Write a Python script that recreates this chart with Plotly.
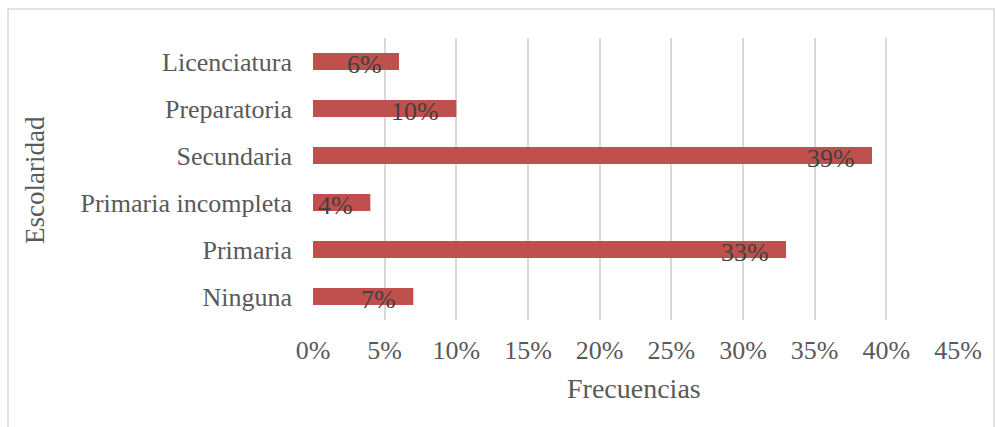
import plotly.graph_objects as go

categories = ["Ninguna", "Primaria", "Primaria incompleta", "Secundaria", "Preparatoria", "Licenciatura"]
values = [0.07, 0.33, 0.04, 0.39, 0.10, 0.06]
tick_vals = [0, 0.05, 0.10, 0.15, 0.20, 0.25, 0.30, 0.35, 0.40, 0.45]
tick_text = ["0%", "5%", "10%", "15%", "20%", "25%", "30%", "35%", "40%", "45%"]

FONT = "Liberation Serif"
W, H = 995, 427
L, R, T, B = 313, 37, 38, 107
pw, ph = W - L - R, H - T - B

fig = go.Figure()
fig.add_trace(go.Bar(
    y=categories, x=values, orientation="h",
    marker=dict(color="#C0504D", line=dict(width=0)),
    width=0.36, hoverinfo="skip",
))

for c, v in zip(categories, values):
    fig.add_annotation(
        x=v, y=c, xref="x", yref="y", text=f"{round(v*100)}%",
        showarrow=False, xanchor="right", yanchor="middle",
        xshift=-15, yshift=-3,
        font=dict(family=FONT, size=26, color="#404040"),
    )

def px_x(p):
    return (p - L) / pw

def px_y(p):
    return 1 - (p - T) / ph

fig.add_shape(type="rect", xref="paper", yref="paper",
              x0=px_x(8), x1=px_x(994), y0=px_y(430), y1=px_y(9),
              line=dict(color="#D9D9D9", width=1.5), fillcolor="rgba(0,0,0,0)", layer="below")

# axis titles
fig.add_annotation(x=px_x(35), y=px_y(180), xref="paper", yref="paper",
                   text="Escolaridad", textangle=-90, showarrow=False,
                   xanchor="center", yanchor="middle",
                   font=dict(family=FONT, size=27, color="#595959"))
fig.add_annotation(x=px_x(634), y=px_y(388), xref="paper", yref="paper",
                   text="Frecuencias", showarrow=False,
                   xanchor="center", yanchor="middle",
                   font=dict(family=FONT, size=28, color="#595959"))

fig.update_layout(
    width=W, height=H,
    margin=dict(l=L, r=R, t=T, b=B),
    paper_bgcolor="white", plot_bgcolor="white",
    showlegend=False,
    font=dict(family=FONT, size=26, color="#595959"),
    xaxis=dict(
        range=[0, 0.45], tickvals=tick_vals, ticktext=tick_text,
        showgrid=True, gridcolor="#D9D9D9", gridwidth=1.5, zeroline=False,
        showline=False, ticks="", ticklabelstandoff=12,
        tickfont=dict(family=FONT, size=26, color="#595959"),
        fixedrange=True,
    ),
    yaxis=dict(
        categoryorder="array", categoryarray=categories,
        showgrid=False, zeroline=False, showline=False, ticks="",
        ticklabelstandoff=20,
        tickfont=dict(family=FONT, size=26, color="#595959"),
        fixedrange=True,
    ),
)

fig.write_html("out.html")
